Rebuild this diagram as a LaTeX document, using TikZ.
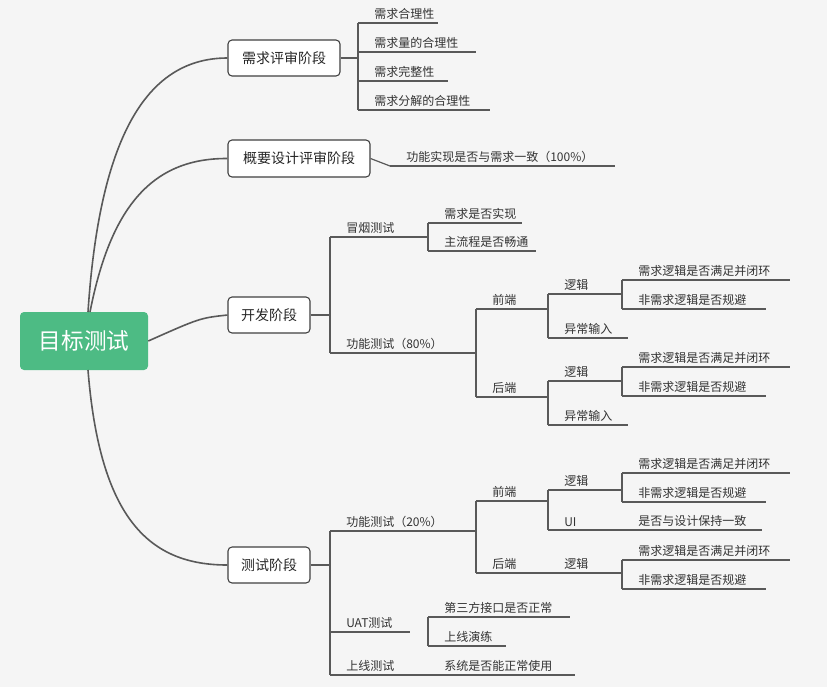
\documentclass[tikz,border=0pt]{standalone}
\usepackage{fontspec}
\newfontfamily\cjk{Noto Sans CJK SC}
\definecolor{rootg}{HTML}{4DBB84}
\begin{document}
\begin{tikzpicture}[x=0.75pt,y=-0.75pt,
  ln/.style={draw=black!65,line width=0.9pt},
  lt/.style={font=\cjk\fontsize{9}{10}\selectfont,text=black!80,anchor=south west,inner sep=1.5pt},
  box/.style={draw=black!75,fill=white,rounded corners=3pt,line width=0.8pt,font=\cjk\fontsize{10.5}{12}\selectfont,text=black!85,inner sep=0pt},
  cv/.style={draw=black!65,line width=1.2pt}]
\fill[black!4] (0,0) rectangle (827,687);
\useasboundingbox (0,0) rectangle (827,687);
\newcommand\lf[5]{\draw[ln] (#2,#3)--(#4,#3); \node[lt] (#1) at (#2+14,#3-1) {#5};}
\newcommand\vsp[3]{\draw[ln] (#1,#2)--(#1,#3);}
% root and level 1
\node[fill=rootg,rounded corners=3pt,minimum width=96pt,minimum height=43.5pt,text=white,font=\cjk\fontsize{17}{20}\selectfont,inner sep=0pt] (root) at (84,341) {目标测试};
\node[box,minimum width=84pt,minimum height=27pt] (a) at (284,58) {需求评审阶段};
\node[box,minimum width=106.5pt,minimum height=27.75pt] (b) at (299,158.5) {概要设计评审阶段};
\node[box,minimum width=61.5pt,minimum height=27pt] (c) at (269,315) {开发阶段};
\node[box,minimum width=61.5pt,minimum height=27pt] (d) at (269,565) {测试阶段};
\draw[cv] (88,312) .. controls (100,130) and (150,58) .. (a.west);
\draw[cv] (90,312) .. controls (110,210) and (150,158) .. (b.west);
\draw[cv] (root.east) .. controls (200,318) .. (c.west);
\draw[cv] (88,370) .. controls (100,520) and (150,565) .. (d.west);
% A
\draw[ln] (a.east)--(358,58); \vsp{358}{23}{110}
\lf{a1}{358}{23}{438}{需求合理性}
\lf{a2}{358}{52}{476}{需求量的合理性}
\lf{a3}{358}{81}{448}{需求完整性}
\lf{a4}{358}{110}{490}{需求分解的合理性}
% B
\draw[ln] (b.east)--(390,166);
\lf{b1}{390}{166}{615}{功能实现是否与需求一致（100\%）}
% C
\draw[ln] (c.east)--(330,315); \vsp{330}{237}{353}
\lf{c1}{330}{237}{410}{冒烟测试}
\lf{c2}{330}{353}{476}{功能测试（80\%）}
\draw[ln] (410,237)--(428,237); \vsp{428}{223}{251}
\lf{c11}{428}{223}{522}{需求是否实现}
\lf{c12}{428}{251}{536}{主流程是否畅通}
\vsp{476}{309}{397}
\lf{cf}{476}{309}{548}{前端}
\lf{cb}{476}{397}{548}{后端}
\foreach \o/\n in {0/f,87/b}{
  \vsp{548}{294+\o}{338+\o}
  \lf{c\n l}{548}{294+\o}{622}{逻辑}
  \lf{c\n e}{548}{338+\o}{628}{异常输入}
  \vsp{622}{280+\o}{309+\o}
  \lf{c\n l1}{622}{280+\o}{790}{需求逻辑是否满足并闭环}
  \lf{c\n l2}{622}{309+\o}{766}{非需求逻辑是否规避}
}
% D
\draw[ln] (d.east)--(330,565); \vsp{330}{531}{675}
\lf{d1}{330}{531}{476}{功能测试（20\%）}
\lf{d2}{330}{632}{410}{UAT测试}
\lf{d3}{330}{675}{428}{上线测试}
\lf{d31}{428}{675}{575}{系统是否能正常使用}
\vsp{428}{617}{646}
\lf{d21}{428}{617}{570}{第三方接口是否正常}
\lf{d22}{428}{646}{506}{上线演练}
\vsp{476}{501}{573}
\lf{df}{476}{501}{548}{前端}
\lf{db}{476}{573}{548}{后端}
\draw[ln] (548,573)--(622,573);
\node[lt] (dbl) at (562,572) {逻辑};
\vsp{548}{490}{530}
\lf{dfl}{548}{490}{622}{逻辑}
\lf{dfu}{548}{530}{622}{UI}
\lf{dfu1}{622}{530}{762}{是否与设计保持一致}
\vsp{622}{473}{502}
\lf{dfl1}{622}{473}{790}{需求逻辑是否满足并闭环}
\lf{dfl2}{622}{502}{766}{非需求逻辑是否规避}
\vsp{622}{560}{589}
\lf{dbl1}{622}{560}{790}{需求逻辑是否满足并闭环}
\lf{dbl2}{622}{589}{766}{非需求逻辑是否规避}
\end{tikzpicture}
\end{document}
